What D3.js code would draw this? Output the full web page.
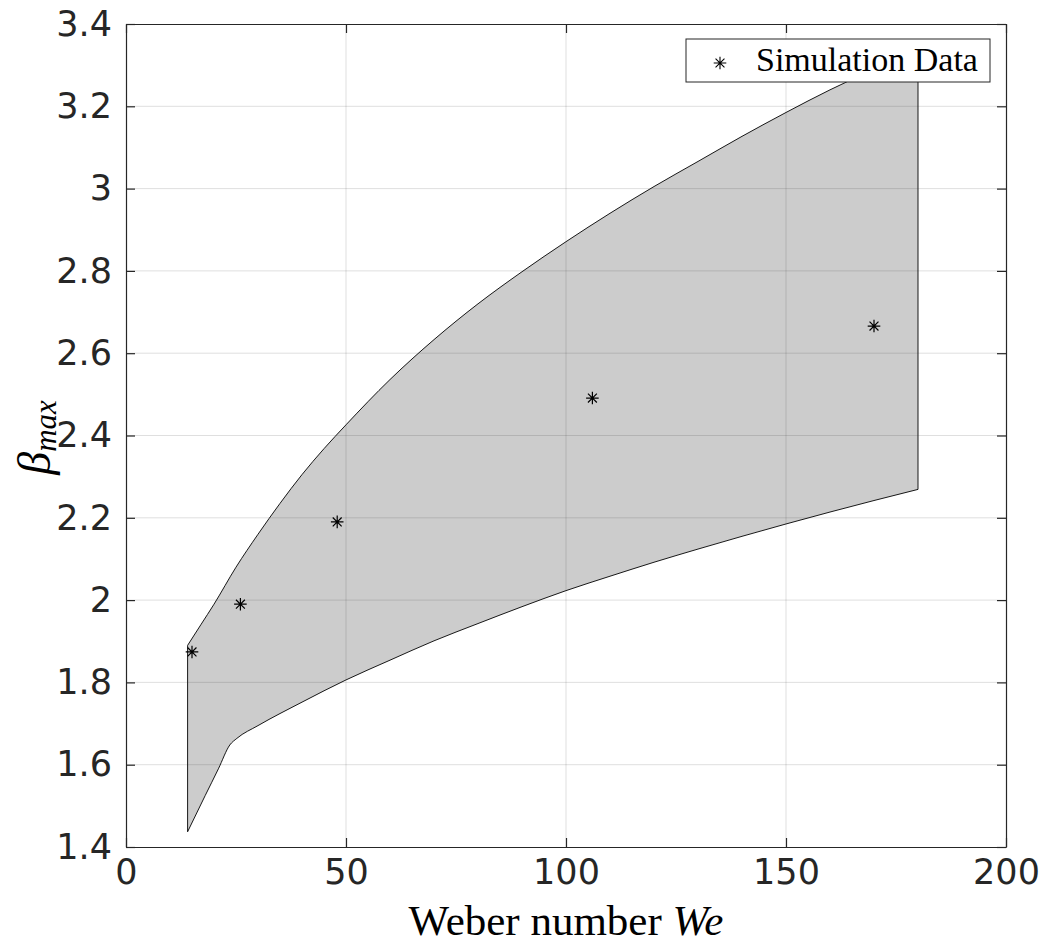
<!DOCTYPE html>
<meta charset="utf-8">
<head>
    <style>
        body {
            margin: 0;
            background: #fff;
        }

        svg {
            display: block;
        }

        .tick text {
            font-family: "DejaVu Sans", sans-serif;
            font-size: 35px;
            fill: #262626;
        }

        .serif {
            font-family: "Liberation Serif", "DejaVu Serif", serif;
            fill: #000;
        }
    </style>
</head>
<body>
    <script src="https://cdn.jsdelivr.net/npm/d3@7"></script>
    <script>
        // upper edge of the band
        var upperWe = [14, 17, 20, 25, 30, 35, 40, 45, 50, 60, 70, 80, 90, 100, 110, 120, 130, 140, 150, 160, 170, 180];
        var upperBeta = [1.89, 1.94, 1.99, 2.08, 2.16, 2.235, 2.305, 2.368, 2.426, 2.536, 2.633, 2.72, 2.798, 2.871, 2.94, 3.005, 3.066, 3.127, 3.185, 3.24, 3.29, 3.338];

        // lower edge of the band
        var lowerWe = [14, 18, 21, 23.6, 25.2, 30, 40, 50, 60, 70, 80, 90, 100, 110, 120, 130, 140, 150, 160, 170, 180];
        var lowerBeta = [1.437, 1.525, 1.59, 1.648, 1.664, 1.695, 1.752, 1.806, 1.854, 1.901, 1.943, 1.984, 2.023, 2.058, 2.092, 2.124, 2.155, 2.185, 2.214, 2.242, 2.269];

        // simulation points
        var simWe = [15, 26, 48, 106, 170];
        var simBeta = [1.874, 1.99, 2.19, 2.491, 2.666];

        var xTicks = [0, 50, 100, 150, 200];
        var yTicks = [1.4, 1.6, 1.8, 2, 2.2, 2.4, 2.6, 2.8, 3, 3.2, 3.4];

        var width = 1048, height = 945;
        var margin = { top: 24, right: 42, bottom: 98, left: 126 };
        var iw = width - margin.left - margin.right,
            ih = height - margin.top - margin.bottom;

        var svg = d3.select("body").append("svg")
            .attr("width", width)
            .attr("height", height);

        var g = svg.append("g")
            .attr("transform", "translate(" + margin.left + "," + margin.top + ")");

        var x = d3.scaleLinear().domain([0, 200]).range([0, iw]);
        var y = d3.scaleLinear().domain([1.4, 3.4]).range([ih, 0]);

        var upper = upperWe.map(function (w, i) { return [w, upperBeta[i]]; });
        var lower = lowerWe.map(function (w, i) { return [w, lowerBeta[i]]; });

        var line = d3.line()
            .x(function (d) { return x(d[0]); })
            .y(function (d) { return y(d[1]); })
            .curve(d3.curveMonotoneX);

        // band: upper left->right, down the right side, lower right->left, closed
        var lowerRev = lower.slice().reverse();
        var bandPath = line(upper) +
            "L" + line(lowerRev).slice(1) + "Z";

        g.append("path")
            .attr("d", bandPath)
            .attr("fill", "#cccccc")
            .attr("stroke", "#000")
            .attr("stroke-width", 0.9)
            .attr("stroke-linejoin", "round");

        // grid on top, like matlab
        g.append("g").selectAll("line")
            .data(xTicks.slice(1, -1))
            .enter().append("line")
            .attr("x1", function (d) { return x(d); })
            .attr("x2", function (d) { return x(d); })
            .attr("y1", 0).attr("y2", ih)
            .attr("stroke", "#262626").attr("stroke-opacity", 0.15);

        g.append("g").selectAll("line")
            .data(yTicks.slice(1, -1))
            .enter().append("line")
            .attr("y1", function (d) { return y(d); })
            .attr("y2", function (d) { return y(d); })
            .attr("x1", 0).attr("x2", iw)
            .attr("stroke", "#262626").attr("stroke-opacity", 0.15);

        // asterisk markers
        var r = 6.3, k = r * 0.707;
        var star = "M0," + (-r) + "V" + r + "M" + (-r) + ",0H" + r +
            "M" + (-k) + "," + (-k) + "L" + k + "," + k +
            "M" + (-k) + "," + k + "L" + k + "," + (-k);

        g.append("g").selectAll("path")
            .data(simWe)
            .enter().append("path")
            .attr("transform", function (d, i) { return "translate(" + x(d) + "," + y(simBeta[i]) + ")"; })
            .attr("d", star)
            .attr("fill", "none")
            .attr("stroke", "#000")
            .attr("stroke-width", 1.2);

        // axes
        var xAxis = g.append("g")
            .attr("transform", "translate(0," + ih + ")")
            .call(d3.axisBottom(x).tickValues(xTicks).tickSizeInner(-9).tickSizeOuter(0).tickPadding(12));
        xAxis.selectAll("text").attr("dy", "0.71em");

        g.append("g")
            .call(d3.axisTop(x).tickValues(xTicks).tickSizeInner(-9).tickSizeOuter(0).tickFormat(""));

        g.append("g")
            .call(d3.axisLeft(y).tickValues(yTicks).tickSizeInner(-9).tickSizeOuter(0).tickPadding(14)
                .tickFormat(function (d) { return d3.format("")(d); }));

        g.append("g")
            .attr("transform", "translate(" + iw + ",0)")
            .call(d3.axisRight(y).tickValues(yTicks).tickSizeInner(-9).tickSizeOuter(0).tickFormat(""));

        g.selectAll(".domain").attr("stroke", "#262626").attr("stroke-width", 1.2);
        g.selectAll(".tick line").attr("stroke", "#262626").attr("stroke-width", 1.2);

        // legend
        var leg = g.append("g").attr("transform", "translate(" + (686 - margin.left) + "," + (39 - margin.top) + ")");
        leg.append("rect")
            .attr("width", 304).attr("height", 43)
            .attr("fill", "#fff")
            .attr("stroke", "#262626")
            .attr("stroke-width", 1);
        leg.append("path")
            .attr("transform", "translate(34,24)")
            .attr("d", star)
            .attr("fill", "none")
            .attr("stroke", "#000")
            .attr("stroke-width", 1.1);
        leg.append("text")
            .attr("class", "serif")
            .attr("x", 70).attr("y", 32)
            .style("font-size", "34px")
            .text("Simulation Data");

        // axis titles
        var xt = svg.append("text")
            .attr("class", "serif")
            .attr("x", margin.left + iw / 2)
            .attr("y", 935)
            .attr("text-anchor", "middle")
            .style("font-size", "43px");
        xt.append("tspan").text("Weber number ");
        xt.append("tspan").style("font-style", "italic").text("We");

        var yt = svg.append("text")
            .attr("class", "serif")
            .attr("transform", "translate(50," + (margin.top + ih / 2 + 2) + ") rotate(-90)")
            .attr("text-anchor", "middle")
            .style("font-style", "italic");
        yt.append("tspan").style("font-size", "46px").text("β");
        yt.append("tspan").attr("dy", 6).style("font-size", "31px").text("max");
    </script>
</body>
